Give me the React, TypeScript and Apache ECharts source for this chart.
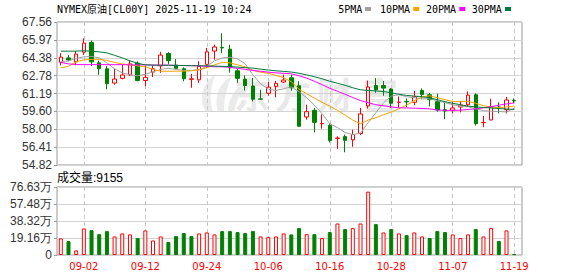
import React, { useEffect, useRef } from 'react';
import * as echarts from 'echarts';

const dates = [
  '08-27', '08-28', '08-29', '09-02', '09-03', '09-04', '09-05', '09-08', '09-09', '09-10',
  '09-11', '09-12', '09-15', '09-16', '09-17', '09-18', '09-19', '09-22', '09-23', '09-24',
  '09-25', '09-26', '09-29', '09-30', '10-01', '10-02', '10-03', '10-06', '10-07', '10-08',
  '10-09', '10-10', '10-13', '10-14', '10-15', '10-16', '10-17', '10-20', '10-21', '10-22',
  '10-23', '10-24', '10-27', '10-28', '10-29', '10-30', '10-31', '11-03', '11-04', '11-05',
  '11-06', '11-07', '11-10', '11-11', '11-12', '11-13', '11-14', '11-17', '11-18', '11-19',
];

const opens = [
  63.96, 64.36, 64.01, 64.88, 65.74, 63.92, 63.39, 62.12, 62.54, 62.84,
  63.90, 62.35, 63.10, 63.65, 64.75, 63.72, 63.39, 62.45, 62.41, 63.79,
  64.97, 65.30, 65.14, 63.21, 62.48, 61.86, 60.71, 61.21, 61.81, 62.21,
  62.59, 61.88, 59.10, 59.69, 58.49, 58.35, 57.19, 57.35, 57.06, 57.62,
  60.08, 61.90, 61.90, 61.59, 60.40, 60.48, 60.41, 61.46, 61.08, 60.46,
  59.75, 59.69, 59.99, 60.19, 61.08, 58.59, 58.83, 59.99, 59.75, 60.56,
];
const closes = [
  64.43, 64.17, 64.70, 65.68, 64.01, 63.39, 62.06, 62.48, 62.84, 63.83,
  62.35, 62.63, 63.39, 64.61, 64.12, 63.43, 62.50, 62.50, 63.61, 64.90,
  65.34, 65.25, 63.48, 62.54, 61.90, 60.68, 60.68, 61.75, 62.10, 62.39,
  61.70, 58.27, 59.57, 58.62, 58.52, 57.01, 57.22, 57.02, 57.53, 59.37,
  61.77, 61.52, 61.67, 60.32, 60.42, 60.44, 60.90, 61.11, 60.64, 59.72,
  59.63, 59.90, 60.16, 61.04, 58.50, 58.61, 60.01, 59.96, 60.61, 60.54,
];
const lows = [
  63.70, 64.05, 63.70, 64.63, 63.65, 62.85, 61.57, 61.97, 62.45, 62.75,
  62.28, 61.83, 62.65, 63.03, 63.79, 63.34, 62.28, 61.70, 62.14, 63.48,
  64.21, 64.78, 63.06, 62.14, 61.46, 60.48, 60.64, 60.99, 60.85, 62.13,
  61.43, 58.24, 58.86, 57.73, 58.06, 56.82, 56.26, 55.95, 56.44, 57.48,
  59.84, 61.26, 60.99, 59.90, 59.93, 59.97, 60.15, 60.68, 60.04, 59.57,
  58.90, 59.43, 59.51, 59.99, 58.33, 58.19, 58.80, 59.43, 59.41, 60.34,
];
const highs = [
  64.78, 64.61, 64.97, 66.11, 65.92, 64.12, 63.65, 63.39, 63.72, 64.16,
  64.05, 63.65, 63.70, 64.90, 64.87, 64.26, 63.52, 62.94, 64.07, 65.25,
  65.54, 66.56, 65.52, 63.39, 62.79, 62.57, 61.52, 62.22, 62.30, 62.87,
  62.88, 62.28, 60.19, 59.90, 59.33, 58.52, 57.38, 57.53, 57.97, 59.90,
  62.34, 62.56, 62.30, 61.67, 60.93, 60.74, 61.42, 61.64, 61.23, 61.17,
  60.50, 60.41, 60.52, 61.37, 61.20, 59.19, 60.72, 60.41, 60.88, 60.76,
];

const ma5 = [
  64.01, 64.10, 64.32, 64.45, 64.50, 64.36, 63.92, 63.39, 63.03, 62.85,
  62.77, 62.90, 63.12, 63.34, 63.43, 63.34, 63.25, 63.25, 63.30, 63.61,
  64.10, 64.36, 64.41, 64.28, 63.83, 62.85, 62.06, 61.57, 61.46, 61.61,
  61.79, 61.35, 60.81, 60.15, 59.39, 58.50, 58.15, 57.71, 57.53, 57.66,
  58.59, 59.48, 60.37, 60.95, 61.08, 60.90, 60.81, 60.72, 60.72, 60.55,
  60.37, 60.19, 60.06, 60.01, 59.84, 59.66, 59.61, 59.60, 59.54, 59.88,
];
const ma10 = [
  63.48, 63.61, 64.01, 64.19, 64.23, 64.23, 64.14, 63.96, 63.83, 63.74,
  63.65, 63.57, 63.34, 63.17, 63.17, 63.18, 63.18, 63.21, 63.30, 63.48,
  63.74, 63.96, 63.92, 63.74, 63.57, 63.25, 63.08, 62.99, 62.81, 62.59,
  62.23, 61.57, 61.17, 60.77, 60.41, 60.06, 59.70, 59.26, 58.82, 58.50,
  58.82, 59.04, 59.30, 59.53, 59.84, 60.15, 60.55, 60.86, 60.99, 60.81,
  60.64, 60.48, 60.46, 60.50, 60.32, 60.10, 59.99, 59.93, 59.99, 60.06,
];
const ma20 = [
  63.96, 63.83, 63.77, 63.76, 63.76, 63.76, 63.76, 63.76, 63.76, 63.74,
  63.74, 63.74, 63.72, 63.72, 63.72, 63.70, 63.68, 63.67, 63.65, 63.61,
  63.58, 63.57, 63.52, 63.43, 63.34, 63.25, 63.17, 63.09, 63.03, 62.99,
  62.94, 62.77, 62.56, 62.28, 61.98, 61.66, 61.39, 61.12, 60.83, 60.56,
  60.37, 60.19, 60.10, 59.99, 59.91, 59.90, 59.88, 59.86, 59.82, 59.72,
  59.69, 59.69, 59.70, 59.77, 59.82, 59.91, 60.01, 60.15, 60.26, 60.35,
];
const ma30 = [
  64.96, 64.96, 64.97, 64.99, 64.96, 64.90, 64.81, 64.59, 64.36, 64.10,
  63.88, 63.74, 63.72, 63.71, 63.70, 63.69, 63.68, 63.67, 63.66, 63.65,
  63.63, 63.61, 63.59, 63.54, 63.49, 63.45, 63.36, 63.28, 63.21, 63.16,
  63.10, 62.99, 62.85, 62.68, 62.50, 62.28, 62.10, 61.92, 61.70, 61.52,
  61.46, 61.42, 61.36, 61.26, 61.12, 61.02, 60.96, 60.90, 60.81, 60.64,
  60.46, 60.32, 60.19, 60.06, 60.00, 59.94, 59.90, 59.85, 59.81, 59.77,
];

// volume in 万
const volumes = [
  18.7, 15.7, 5.2, 29.9, 28.0, 23.5, 26.9, 20.9, 24.3, 23.2,
  19.1, 27.7, 16.4, 20.9, 14.6, 21.3, 24.7, 21.3, 24.3, 25.4,
  23.2, 26.9, 26.9, 25.8, 24.7, 26.9, 20.9, 20.2, 20.9, 24.3,
  23.2, 30.3, 23.5, 23.5, 19.1, 25.8, 35.5, 29.2, 30.3, 35.5,
  71.4, 34.8, 25.4, 29.2, 24.3, 22.4, 25.4, 20.9, 19.1, 26.9,
  25.8, 23.2, 19.1, 23.2, 29.2, 20.9, 30.3, 15.7, 27.7, 0.9155,
];
const volUp = [
  1, 0, 1, 1, 0, 0, 0, 1, 1, 1,
  0, 1, 1, 1, 0, 0, 0, 0, 1, 1,
  1, 0, 0, 0, 0, 0, 1, 1, 1, 1,
  0, 0, 1, 0, 1, 0, 1, 0, 1, 1,
  1, 0, 1, 0, 1, 0, 1, 1, 0, 0,
  0, 1, 1, 1, 0, 1, 1, 0, 1, 0,
];

const tickDates = ['09-02', '09-12', '09-24', '10-06', '10-16', '10-28', '11-07', '11-19'];
const priceTicks = ['54.82', '56.41', '58.00', '59.60', '61.19', '62.78', '64.38', '65.97', '67.56'];
const volTicks = ['0', '19.16万', '38.32万', '57.48万', '76.63万'];
const maNames = ['5PMA', '10PMA', '20PMA', '30PMA'];
const titleText = 'NYMEX原油[CL00Y] 2025-11-19 10:24';
const volText = '成交量:9155';
const watermarkChars = ['东', '方', '财', '富'];

const PRICE_MIN = 54.82;
const PRICE_MAX = 67.56;
const VOL_MAX = 76.63;

const MA_COLORS = ['#a0a0a0', '#f5a300', '#ff00ff', '#007a3d'];
const UP = '#ff0000';
const DOWN = '#008000';

const LOGO_D =
  'M10 40 C2 28 6 10 20 2 C14 14 13 28 17 40 Z M22 40 C18 26 22 12 36 4 C30 16 28 28 28 40 Z M32 40 C32 28 38 16 50 10 C44 20 40 30 38 40 Z';
echarts.graphic.registerShape('eastLogo', echarts.graphic.extendPath(LOGO_D, {}));

export default function App() {
  const ref = useRef<HTMLDivElement>(null);

  useEffect(() => {
    const chart = echarts.init(ref.current as HTMLDivElement, null, { renderer: 'svg' });
    const priceStep = (PRICE_MAX - PRICE_MIN) / 8;
    const volStep = VOL_MAX / 4;
    const isTick = (i: number) => tickDates.indexOf(dates[i]) >= 0;
    const candleData = dates.map((_, i) => [opens[i], closes[i], lows[i], highs[i]]);
    const volData = volumes.map((v, i) => ({
      value: v,
      itemStyle: volUp[i]
        ? { color: '#ffffff', borderColor: UP, borderWidth: 1 }
        : { color: DOWN, borderColor: DOWN, borderWidth: 1 },
    }));
    const dashed = { show: true, interval: (i: number) => isTick(i), lineStyle: { color: '#c8c8c8', type: [4, 3], width: 1 } };
    const yLabel = { color: '#333', fontFamily: 'Liberation Sans', fontSize: 12, margin: 5 };
    const yTick = { show: true, length: 3, lineStyle: { color: '#999' } };
    const split = { show: true, lineStyle: { color: '#d3d3d3', width: 1 } };

    const legendTextX = [338.3, 380, 426, 471.7];
    const legendRectX = [365, 413.3, 459.3, 505];
    const wmX = [252, 293, 335, 380];

    const graphic: any[] = [
      {
        type: 'text', x: 57, y: 9, z: 10,
        style: { text: titleText, fill: '#000', font: '10px "DejaVu Sans Mono", "Noto Sans CJK SC"', verticalAlign: 'middle' },
      },
      {
        type: 'text', x: 57, y: 177.5, z: 10,
        style: { text: volText, fill: '#000', font: '12px "Liberation Sans", "Noto Sans CJK SC"', verticalAlign: 'middle' },
      },
      { type: 'eastLogo', x: 196, y: 72, scaleX: 1, scaleY: 1, z: 0, style: { fill: '#ebebeb' } },
    ];
    maNames.forEach((n, k) => {
      graphic.push({
        type: 'text', x: legendTextX[k], y: 9, z: 10,
        style: { text: n, fill: '#000', font: '10px "DejaVu Sans Mono"', verticalAlign: 'middle' },
      });
      graphic.push({ type: 'rect', x: legendRectX[k], y: 7, z: 10, shape: { width: 6, height: 4 }, style: { fill: MA_COLORS[k] } });
    });
    watermarkChars.forEach((c, k) => {
      graphic.push({
        type: 'text', x: wmX[k], y: 93, z: 0,
        style: { text: c, fill: '#e8e8e8', font: 'bold 36px "Noto Sans CJK SC"', align: 'center', verticalAlign: 'middle' },
      });
    });

    const option: any = {
      animation: false,
      backgroundColor: '#ffffff',
      graphic,
      grid: [
        { left: 60.8, top: 22, width: 453.4, height: 143 },
        { left: 60.8, top: 187, width: 453.4, height: 68 },
        { left: 57, top: 22, width: 465, height: 143, show: true, borderColor: '#999', borderWidth: 1, backgroundColor: 'transparent' },
        { left: 57, top: 187, width: 465, height: 68, show: true, borderColor: '#999', borderWidth: 1, backgroundColor: 'transparent' },
      ],
      xAxis: [
        {
          type: 'category', gridIndex: 0, data: dates, boundaryGap: false,
          axisLine: { show: false }, axisTick: { show: false }, axisLabel: { show: false }, splitLine: dashed,
        },
        {
          type: 'category', gridIndex: 1, data: dates, boundaryGap: false,
          axisLine: { show: false }, axisTick: { show: false },
          axisLabel: { show: true, interval: (i: number) => isTick(i), color: '#ff0000', fontFamily: 'DejaVu Sans', fontSize: 10, margin: 6 },
          splitLine: dashed,
        },
        { type: 'value', gridIndex: 2, show: false, min: 0, max: 1 },
        { type: 'value', gridIndex: 3, show: false, min: 0, max: 1 },
      ],
      yAxis: [
        { type: 'value', gridIndex: 0, min: PRICE_MIN, max: PRICE_MAX, show: false },
        { type: 'value', gridIndex: 1, min: 0, max: VOL_MAX, show: false },
        {
          type: 'value', gridIndex: 2, min: PRICE_MIN, max: PRICE_MAX, interval: priceStep,
          axisLine: { show: false }, axisTick: yTick, splitLine: split,
          axisLabel: { ...yLabel, formatter: (v: number) => priceTicks[Math.round((v - PRICE_MIN) / priceStep)] },
        },
        {
          type: 'value', gridIndex: 3, min: 0, max: VOL_MAX, interval: volStep,
          axisLine: { show: false }, axisTick: yTick, splitLine: split,
          axisLabel: { ...yLabel, formatter: (v: number) => volTicks[Math.round(v / volStep)] },
        },
      ],
      series: [
        {
          type: 'candlestick', xAxisIndex: 0, yAxisIndex: 0, data: candleData, barWidth: 4, clip: false, z: 2,
          itemStyle: { color: '#ffffff', color0: DOWN, borderColor: UP, borderColor0: DOWN, borderWidth: 1 },
        },
        ...[ma5, ma10, ma20, ma30].map((d, k) => ({
          type: 'line', name: maNames[k], xAxisIndex: 0, yAxisIndex: 0, data: d,
          symbol: 'none', showSymbol: false, z: 3, clip: false,
          lineStyle: { width: 1, color: MA_COLORS[k] }, itemStyle: { color: MA_COLORS[k] },
        })),
        { type: 'bar', xAxisIndex: 1, yAxisIndex: 1, data: volData, barWidth: 4, clip: false, z: 2 },
      ],
    };
    chart.setOption(option);
    return () => chart.dispose();
  }, []);

  return (
    <div
      ref={ref}
      style={{ position: 'absolute', left: 0, top: 0, width: 578, height: 276, background: '#fff' }}
    />
  );
}
